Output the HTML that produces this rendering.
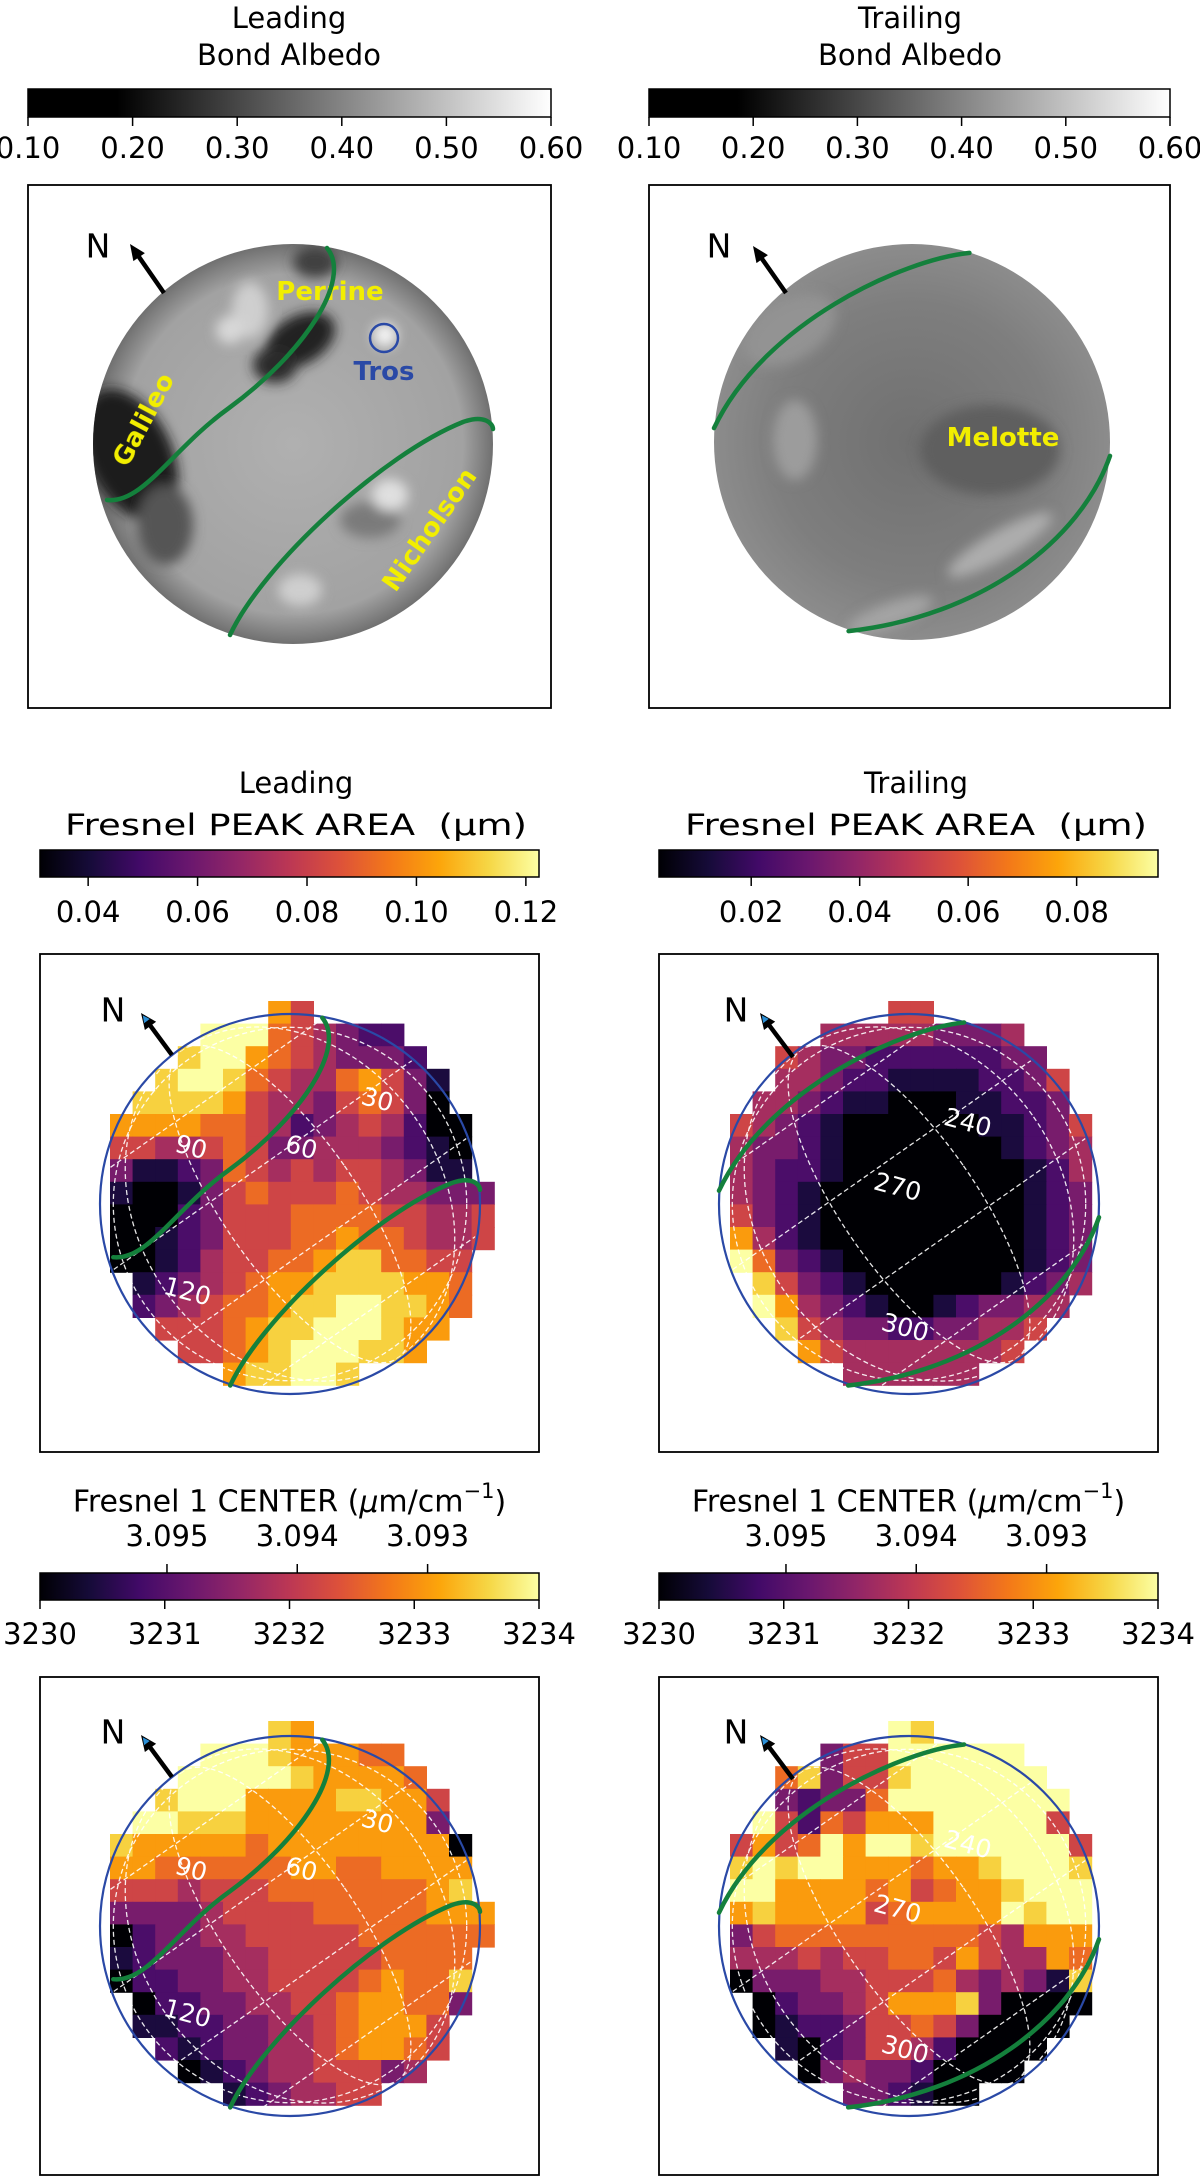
<!DOCTYPE html>
<html><head><meta charset="utf-8"><title>Ganymede Fresnel peak maps</title>
<style>
html,body{margin:0;padding:0;background:#fff;}
svg{display:block;font-family:"DejaVu Sans","Liberation Sans",sans-serif;}
</style></head>
<body>
<svg id="fig" width="1200" height="2179" viewBox="0 0 1200 2179" xmlns="http://www.w3.org/2000/svg">
<defs>
<linearGradient id="grayGrad" x1="0" x2="1" y1="0" y2="0">
<stop offset="0" stop-color="#000"/><stop offset="0.17" stop-color="#000"/><stop offset="1" stop-color="#fff"/>
</linearGradient>
<linearGradient id="infGrad" x1="0" x2="1" y1="0" y2="0">
<stop offset="0" stop-color="#000004"/><stop offset="0.1" stop-color="#160b39"/><stop offset="0.2" stop-color="#420a68"/><stop offset="0.3" stop-color="#6a176e"/><stop offset="0.4" stop-color="#932667"/><stop offset="0.5" stop-color="#bc3754"/><stop offset="0.6" stop-color="#dd513a"/><stop offset="0.7" stop-color="#f37819"/><stop offset="0.8" stop-color="#fca50a"/><stop offset="0.9" stop-color="#f6d746"/><stop offset="1" stop-color="#fcffa4"/>
</linearGradient>
<radialGradient id="leadGlobe" cx="0.5" cy="0.5" r="0.5">
<stop offset="0" stop-color="#b0b0b0"/><stop offset="0.85" stop-color="#a2a2a2"/><stop offset="1" stop-color="#707070"/>
</radialGradient>
<radialGradient id="trailGlobe" cx="0.5" cy="0.5" r="0.5">
<stop offset="0" stop-color="#707070"/><stop offset="0.7" stop-color="#7e7e7e"/><stop offset="1" stop-color="#8c8c8c"/>
</radialGradient>
<filter id="blur6"><feGaussianBlur stdDeviation="6"/></filter>
<clipPath id="clipLA"><circle cx="293" cy="444" r="200"/></clipPath>
<clipPath id="clipTA"><circle cx="912" cy="442" r="198"/></clipPath>
</defs>
<g id="layer"></g>
</svg>
<script>
// ---------- colorbar tick data ----------
const albedoTicks = ["0.10","0.20","0.30","0.40","0.50","0.60"];
const albedoTickVals = [0.10,0.20,0.30,0.40,0.50,0.60];
const albedoRange = [0.10,0.60];
const leadAreaTicks = ["0.04","0.06","0.08","0.10","0.12"];
const leadAreaTickVals = [0.04,0.06,0.08,0.10,0.12];
const leadAreaRange = [0.0312,0.1224];
const trailAreaTicks = ["0.02","0.04","0.06","0.08"];
const trailAreaTickVals = [0.02,0.04,0.06,0.08];
const trailAreaRange = [0.003,0.095];
const centerTicks = ["3230","3231","3232","3233","3234"];
const centerTickVals = [3230,3231,3232,3233,3234];
const centerRange = [3230,3234];
const centerTopTicks = ["3.095","3.094","3.093"];
const centerTopVals = [3.095,3.094,3.093];

// ---------- heatmap levels (0 = darkest .. 9 = brightest, -1 = no data) ----------
const leadAreaLevels = [
[-1,-1,-1,-1,-1,-1,-1,7,5,-1,-1,-1,-1,-1,-1,-1,-1],
[-1,-1,-1,-1,9,9,9,6,5,4,3,2,2,-1,-1,-1,-1],
[-1,-1,-1,8,9,9,7,6,5,4,3,3,3,2,-1,-1,-1],
[-1,-1,8,9,9,8,6,5,4,4,6,7,5,3,1,-1,-1],
[-1,8,8,8,8,7,5,4,4,3,5,6,5,3,0,-1,-1],
[7,7,7,7,6,6,5,4,2,3,4,5,4,2,0,0,-1],
[5,5,4,4,5,6,5,3,3,4,4,4,3,2,1,0,-1],
[3,1,1,2,3,6,5,4,5,4,5,5,4,3,1,1,-1],
[1,0,0,1,3,5,6,5,5,5,6,5,4,4,3,3,3],
[0,0,0,2,3,5,5,5,6,6,6,6,5,5,4,4,5],
[0,0,1,2,3,5,5,5,6,6,7,6,6,5,4,4,5],
[0,0,1,2,4,5,5,6,6,7,8,8,6,6,5,5,-1],
[-1,1,2,3,4,5,6,7,7,8,8,8,8,7,7,6,-1],
[-1,2,3,4,5,6,6,7,8,8,9,9,8,8,7,6,-1],
[-1,-1,5,5,5,6,7,8,8,9,9,9,8,7,7,-1,-1],
[-1,-1,-1,5,5,6,7,8,9,9,9,8,8,7,-1,-1,-1],
[-1,-1,-1,-1,-1,7,8,8,9,9,8,-1,-1,-1,-1,-1,-1]];
const trailAreaLevels = [
[-1,-1,-1,-1,-1,-1,-1,5,5,-1,-1,-1,-1,-1,-1,-1],
[-1,-1,-1,-1,4,4,4,4,4,3,3,3,4,-1,-1,-1],
[-1,-1,5,4,3,3,2,2,2,2,2,2,3,3,-1,-1],
[-1,-1,4,4,3,2,2,1,1,1,1,2,2,3,5,-1],
[-1,4,4,3,2,1,1,0,0,0,1,1,2,2,3,-1],
[5,4,3,2,1,0,0,0,0,0,0,1,1,2,3,5],
[4,3,3,2,1,0,0,0,0,0,0,0,1,2,3,4],
[4,3,2,2,1,0,0,0,0,0,0,0,0,1,2,4],
[4,3,2,1,0,0,0,0,0,0,0,0,0,1,2,3],
[5,3,2,1,0,0,0,0,0,0,0,0,0,1,2,3],
[7,4,2,1,0,0,0,0,0,0,0,0,0,1,2,3],
[9,6,3,2,1,0,0,0,0,0,0,0,0,1,2,3],
[-1,8,5,3,2,1,0,0,0,0,0,0,1,2,3,4],
[-1,9,7,4,3,2,1,0,0,1,2,3,3,4,4,-1],
[-1,-1,8,5,4,3,3,2,2,3,3,4,4,5,-1,-1],
[-1,-1,-1,7,5,4,4,4,4,4,4,4,5,-1,-1,-1],
[-1,-1,-1,-1,-1,4,4,4,4,4,4,-1,-1,-1,-1,-1]];
const leadCenterLevels = [
[-1,-1,-1,-1,-1,-1,-1,8,7,-1,-1,-1,-1,-1,-1,-1,-1],
[-1,-1,-1,-1,9,9,9,8,7,7,7,6,6,-1,-1,-1,-1],
[-1,-1,-1,9,9,9,9,9,8,7,7,7,7,6,-1,-1,-1],
[-1,-1,8,9,9,9,7,7,7,7,8,8,7,7,5,-1,-1],
[-1,9,9,8,8,8,7,7,7,7,7,7,7,7,3,-1,-1],
[8,7,7,7,7,7,6,7,7,7,7,7,7,7,7,0,-1],
[7,7,6,6,6,6,6,6,7,7,6,6,7,7,7,7,-1],
[5,5,5,4,5,5,5,6,6,6,6,6,6,6,7,8,-1],
[3,3,3,3,4,5,5,5,5,6,6,6,6,6,7,7,7],
[0,2,3,3,4,4,5,5,5,5,5,6,6,6,6,6,6],
[1,2,3,3,3,4,4,5,5,5,5,5,6,6,6,6,-1],
[0,2,2,3,3,4,4,5,5,5,5,6,7,6,6,8,-1],
[-1,0,2,2,3,3,4,4,5,5,6,7,7,6,6,3,-1],
[-1,1,1,2,2,3,3,4,4,5,6,7,7,7,5,-1,-1],
[-1,-1,2,1,2,3,3,4,4,5,6,7,7,6,5,-1,-1],
[-1,-1,-1,0,1,2,3,4,4,5,5,5,3,4,-1,-1,-1],
[-1,-1,-1,-1,-1,1,2,3,4,4,5,5,-1,-1,-1,-1,-1]];
const trailCenterLevels = [
[-1,-1,-1,-1,-1,-1,-1,9,8,-1,-1,-1,-1,-1,-1,-1],
[-1,-1,-1,-1,3,5,5,9,9,9,9,9,9,-1,-1,-1],
[-1,-1,6,8,3,5,5,8,9,9,9,9,9,9,-1,-1],
[-1,-1,3,2,3,3,6,9,9,9,9,9,9,9,9,-1],
[-1,9,5,2,6,5,7,7,7,9,9,9,9,9,5,-1],
[5,7,5,6,9,7,9,9,8,9,9,9,9,9,9,5],
[8,9,8,9,9,7,7,7,6,7,7,8,9,9,9,8],
[9,9,7,7,7,7,6,7,5,6,7,7,8,9,9,9],
[7,8,7,7,7,7,5,6,7,7,7,7,9,8,9,9],
[3,5,6,6,6,6,6,6,6,6,6,5,4,7,7,7],
[4,4,4,5,4,5,5,6,6,5,7,5,4,4,7,6],
[0,3,3,3,4,4,5,5,5,6,4,3,4,3,1,8],
[-1,0,2,3,3,4,5,7,7,7,8,3,0,0,0,0],
[-1,0,1,2,2,3,5,5,6,5,3,0,0,0,0,-1],
[-1,-1,1,0,2,3,5,5,4,2,0,0,0,0,-1,-1],
[-1,-1,-1,0,3,4,3,3,2,0,0,0,0,-1,-1,-1],
[-1,-1,-1,-1,-1,3,3,2,1,0,0,-1,-1,-1,-1,-1]];
const levelMax = 9;

// grid labels
const leadGridLabels = ["30","90","60","120"];
const trailGridLabels = ["240","270","300"];

const NS = "http://www.w3.org/2000/svg";
const layer = document.getElementById('layer');
function mk(tag, attrs, parent){
  const e = document.createElementNS(NS, tag);
  for (const k in attrs) e.setAttribute(k, attrs[k]);
  (parent||layer).appendChild(e);
  return e;
}
const infStops = [[0,0,0,4],[0.1,22,11,57],[0.2,66,10,104],[0.3,106,23,110],[0.4,147,38,103],[0.5,188,55,84],[0.6,221,81,58],[0.7,243,120,25],[0.8,252,165,10],[0.9,246,215,70],[1,252,255,164]];
function inferno(t){
  t=Math.max(0,Math.min(1,t));
  for(let i=1;i<infStops.length;i++){
    if(t<=infStops[i][0]){
      const a=infStops[i-1],b=infStops[i],f=(t-a[0])/(b[0]-a[0]);
      return `rgb(${Math.round(a[1]+f*(b[1]-a[1]))},${Math.round(a[2]+f*(b[2]-a[2]))},${Math.round(a[3]+f*(b[3]-a[3]))})`;
    }
  }
  return 'rgb(252,255,164)';
}
function txt(x,y,s,size,opts){
  const t = mk('text', Object.assign({x:x,y:y,'font-size':size,'text-anchor':'middle','dominant-baseline':'central',fill:'#000'}, opts||{}));
  t.textContent = s;
  return t;
}

// ---------- colorbar ----------
function colorbar(name, x0, x1, y0, y1, grad, range, vals, labels, labelY){
  const g = mk('g', {});
  
  
  const sx = v => x0 + (v - range[0]) / (range[1] - range[0]) * (x1 - x0);
  mk('rect', {x:x0,y:y0,width:x1-x0,height:y1-y0,fill:`url(#${grad})`,stroke:'#000','stroke-width':1.5}, g);
  vals.forEach((v,i)=>{
    const x = sx(v);
    mk('line', {x1:x,x2:x,y1:y1,y2:y1+9,stroke:'#000','stroke-width':1.5}, g);
    const t = txt(x, labelY, labels[i], 29, {});
    g.appendChild(t);
    
    
  });
  return g;
}
function title2(cx, y1, y2, a, b, name){
  const t1 = txt(cx, y1, a, 29);
  
  
  const t2 = txt(cx, y2, b, 29);
  
  
  return t2;
}
function box(x0,y0,x1,y1,name){
  const r = mk('rect',{x:x0,y:y0,width:x1-x0,height:y1-y0,fill:'none',stroke:'#000','stroke-width':1.8});
  
  
}
function northArrow(nx, ny, ax0, ay0, ax1, ay1, blueTip, name){
  const g = mk('g',{});
  
  
  const t = txt(nx, ny, 'N', 33); g.appendChild(t);
  mk('line',{x1:ax0,y1:ay0,x2:ax1+(ax0-ax1)*0.2,y2:ay1+(ay0-ay1)*0.2,stroke:'#000','stroke-width':4.5}, g);
  const ang = Math.atan2(ay1-ay0, ax1-ax0);
  const L=16, W=7;
  const bx = ax1 - L*Math.cos(ang), by = ay1 - L*Math.sin(ang);
  const px = -Math.sin(ang)*W, py = Math.cos(ang)*W;
  mk('polygon',{points:`${ax1},${ay1} ${bx+px},${by+py} ${bx-px},${by-py}`,fill:'#000'}, g);
  if (blueTip){
    const b2x = ax1 - 10*Math.cos(ang), b2y = ay1 - 10*Math.sin(ang);
    mk('polygon',{points:`${ax1-3*Math.cos(ang)},${ay1-3*Math.sin(ang)} ${b2x+px*0.5},${b2y+py*0.5} ${b2x-px*0.5},${b2y-py*0.5}`,fill:'#2b8fd6'}, g);
  }
}
function up(cx,cy,r,p){return (cx+p[0]*r).toFixed(1)+','+(cy+p[1]*r).toFixed(1);}
function curves(cx, cy, r, side, name){
  const g = mk('g',{fill:'none',stroke:'#14803c','stroke-width':4.5,'stroke-linecap':'round'});
  
  
  if (side==='lead'){
    mk('path',{d:`M${up(cx,cy,r,[0.17,-0.98])} C${up(cx,cy,r,[0.30,-0.82])} ${up(cx,cy,r,[0.05,-0.45])} ${up(cx,cy,r,[-0.32,-0.18])} C${up(cx,cy,r,[-0.6,0.02])} ${up(cx,cy,r,[-0.75,0.30])} ${up(cx,cy,r,[-0.93,0.28])}`}, g);
    mk('path',{d:`M${up(cx,cy,r,[-0.315,0.955])} C${up(cx,cy,r,[-0.15,0.6])} ${up(cx,cy,r,[0.45,0.05])} ${up(cx,cy,r,[0.85,-0.11])} C${up(cx,cy,r,[0.96,-0.15])} ${up(cx,cy,r,[1.0,-0.1])} ${up(cx,cy,r,[1.0,-0.075])}`}, g);
  } else {
    mk('path',{d:`M${up(cx,cy,r,[0.29,-0.955])} C${up(cx,cy,r,[-0.05,-0.92])} ${up(cx,cy,r,[-0.75,-0.60])} ${up(cx,cy,r,[-1.0,-0.07])}`}, g);
    mk('path',{d:`M${up(cx,cy,r,[1.0,0.07])} C${up(cx,cy,r,[0.85,0.50])} ${up(cx,cy,r,[0.35,0.88])} ${up(cx,cy,r,[-0.32,0.955])}`}, g);
  }
}
function heatmap(levels, x0, y0, cell, name){
  const g = mk('g',{});
  
  
  levels.forEach((row, r)=>{
    row.forEach((v, c)=>{
      if (v < 0) return;
      const rc = mk('rect',{x:(x0+c*cell).toFixed(2),y:(y0+r*cell).toFixed(2),width:(cell+0.6).toFixed(2),height:(cell+0.6).toFixed(2),fill:inferno(v/levelMax)}, g);
      
      
    });
  });
}
function gridOverlay(cx, cy, r, clipId, labels, labelPos, name){
  const g = mk('g',{});
  
  
  const cp = mk('clipPath',{id:clipId}, g);
  mk('circle',{cx:cx,cy:cy,r:r-2}, cp);
  const gg = mk('g',{'clip-path':`url(#${clipId})`,fill:'none',stroke:'#fff','stroke-width':1.3,'stroke-dasharray':'5,3',opacity:0.9}, g);
  const gr = mk('g',{transform:`rotate(-35 ${cx} ${cy})`}, gg);
  [0.35,0.8].forEach(f=>mk('ellipse',{cx:cx,cy:cy,rx:r*f,ry:r*0.99}, gr));
  [-0.7,-0.25,0.25,0.7].forEach(f=>mk('line',{x1:cx-r,x2:cx+r,y1:cy+f*r,y2:cy+f*r}, gr));
  mk('circle',{cx:cx,cy:cy,r:r*0.93}, gg);
  mk('circle',{cx:cx,cy:cy,r:r,fill:'none',stroke:'#2a49a6','stroke-width':2.2}, g);
  labels.forEach((s,i)=>{
    const p = labelPos[i];
    const t = txt(cx+p[0]*r, cy+p[1]*r, s, 25, {fill:'#fff',transform:`rotate(15 ${cx+p[0]*r} ${cy+p[1]*r})`});
    g.appendChild(t);
    
    
  });
}

// ================= Row 1: albedo =================
title2(289, 18, 55, 'Leading', 'Bond Albedo', 'leading-albedo-title');
title2(910, 18, 55, 'Trailing', 'Bond Albedo', 'trailing-albedo-title');
colorbar('leading-albedo-colorbar', 28, 551, 89, 117, 'grayGrad', albedoRange, albedoTickVals, albedoTicks, 148);
colorbar('trailing-albedo-colorbar', 649, 1170, 89, 117, 'grayGrad', albedoRange, albedoTickVals, albedoTicks, 148);
box(28,185,551,708,'leading-albedo-panel');
box(649,185,1170,708,'trailing-albedo-panel');

(function(){
  const g = mk('g',{});
  
  
  mk('circle',{cx:293,cy:444,r:200,fill:'url(#leadGlobe)'}, g);
  const d = mk('g',{'clip-path':'url(#clipLA)',filter:'url(#blur6)'}, g);
  mk('ellipse',{cx:130,cy:455,rx:42,ry:70,fill:'#1c1c1c',transform:'rotate(-25 130 455)'}, d);
  mk('ellipse',{cx:165,cy:525,rx:28,ry:40,fill:'#555'}, d);
  mk('ellipse',{cx:300,cy:340,rx:38,ry:24,fill:'#202020',transform:'rotate(-30 300 340)'}, d);
  mk('ellipse',{cx:275,cy:365,rx:22,ry:18,fill:'#2a2a2a'}, d);
  mk('ellipse',{cx:315,cy:262,rx:22,ry:16,fill:'#404040'}, d);
  mk('ellipse',{cx:250,cy:310,rx:18,ry:28,fill:'#cfcfcf'}, d);
  mk('ellipse',{cx:385,cy:335,rx:12,ry:12,fill:'#f4f4f4'}, d);
  mk('ellipse',{cx:370,cy:520,rx:30,ry:18,fill:'#7a7a7a'}, d);
  mk('ellipse',{cx:390,cy:495,rx:18,ry:16,fill:'#e0e0e0'}, d);
  mk('ellipse',{cx:230,cy:330,rx:14,ry:14,fill:'#d8d8d8'}, d);
  mk('ellipse',{cx:300,cy:590,rx:22,ry:16,fill:'#cfcfcf'}, d);
  const lab = [['Perrine',330,292,0],['Galileo',144,420,-62],['Nicholson',430,530,-55]];
  lab.forEach(l=>{
    const t = txt(l[1],l[2],l[0],26,{fill:'#f2ee00','font-weight':'bold',transform:`rotate(${l[3]} ${l[1]} ${l[2]})`}); g.appendChild(t);
    
    
  });
  const c = mk('circle',{cx:384,cy:338,r:14,fill:'none',stroke:'#2a49a6','stroke-width':2.5}, g);
  
  
  const t = txt(384,372,'Tros',26,{fill:'#2a49a6','font-weight':'bold'}); g.appendChild(t);
  
  
})();
curves(293,444,200,'lead','leading-albedo-boundaries');
northArrow(98,246,164,293,130,244,false,'leading-albedo-north-arrow');

(function(){
  const g = mk('g',{});
  
  
  mk('circle',{cx:912,cy:442,r:198,fill:'url(#trailGlobe)'}, g);
  const d = mk('g',{'clip-path':'url(#clipTA)',filter:'url(#blur6)'}, g);
  mk('ellipse',{cx:790,cy:330,rx:50,ry:30,fill:'#939393',transform:'rotate(-30 790 330)'}, d);
  mk('ellipse',{cx:795,cy:440,rx:22,ry:40,fill:'#9c9c9c'}, d);
  mk('ellipse',{cx:1000,cy:545,rx:60,ry:14,fill:'#adadad',transform:'rotate(-30 1000 545)'}, d);
  mk('ellipse',{cx:890,cy:615,rx:45,ry:12,fill:'#a4a4a4',transform:'rotate(-20 890 615)'}, d);
  mk('ellipse',{cx:990,cy:450,rx:70,ry:45,fill:'#5e5e5e'}, d);
  const t = txt(1003,438,'Melotte',26,{fill:'#f2ee00','font-weight':'bold'}); g.appendChild(t);
  
  
})();
curves(912,442,198,'trail','trailing-albedo-boundaries');
northArrow(719,246,786,293,753,246,false,'trailing-albedo-north-arrow');

// ================= Row 2: peak area =================
const pa1 = title2(296, 783, 825, 'Leading', 'Fresnel PEAK AREA\u00a0\u00a0(\u03bcm)', 'leading-area-title');
const pa2 = title2(916, 783, 825, 'Trailing', 'Fresnel PEAK AREA\u00a0\u00a0(\u03bcm)', 'trailing-area-title');
[pa1,pa2].forEach(t=>{t.setAttribute('textLength','462');t.setAttribute('lengthAdjust','spacingAndGlyphs');});
colorbar('leading-area-colorbar', 40, 539, 850, 877, 'infGrad', leadAreaRange, leadAreaTickVals, leadAreaTicks, 912);
colorbar('trailing-area-colorbar', 659, 1158, 850, 877, 'infGrad', trailAreaRange, trailAreaTickVals, trailAreaTicks, 912);
box(40,954,539,1452,'leading-area-panel');
box(659,954,1158,1452,'trailing-area-panel');
heatmap(leadAreaLevels, 110, 1001, 22.6, 'leading-area-heatmap');
heatmap(trailAreaLevels, 730, 1001, 22.6, 'trailing-area-heatmap');
const leadLabelPos = [[0.46,-0.55],[-0.52,-0.30],[0.06,-0.30],[-0.54,0.46]];
const trailLabelPos = [[0.31,-0.43],[-0.06,-0.09],[-0.02,0.65]];
gridOverlay(290,1204,190,'gclip1',leadGridLabels,leadLabelPos,'leading-area-grid');
gridOverlay(909,1204,190,'gclip2',trailGridLabels,trailLabelPos,'trailing-area-grid');
curves(290,1204,190,'lead','leading-area-boundaries');
curves(909,1204,190,'trail','trailing-area-boundaries');
northArrow(113,1010,172,1055,141,1013,true,'leading-area-north-arrow');
northArrow(736,1010,793,1057,760,1013,true,'trailing-area-north-arrow');

// ================= Row 3: center =================
function centerBar(x0,x1,side){
  const t = txt((x0+x1)/2, 1502, '', 30);
  t.innerHTML = 'Fresnel 1 CENTER (<tspan font-style="italic">\u03bc</tspan>m/cm<tspan dy="-11" font-size="21">\u22121</tspan><tspan dy="11">)</tspan>';
  
  
  colorbar(side + '-center-colorbar', x0, x1, 1573, 1600, 'infGrad', centerRange, centerTickVals, centerTicks, 1634);
  const sx = v => x0 + (v - centerRange[0])/(centerRange[1]-centerRange[0])*(x1-x0);
  const g = mk('g',{});
  
  
  centerTopVals.forEach((w,i)=>{
    const x = sx(1e4/w);
    mk('line',{x1:x,x2:x,y1:1573,y2:1564,stroke:'#000','stroke-width':1.5}, g);
    const tt = txt(x, 1536, centerTopTicks[i], 29); g.appendChild(tt);
    
    
  });
}
centerBar(40,539,'leading');
centerBar(659,1158,'trailing');
box(40,1677,539,2175,'leading-center-panel');
box(659,1677,1158,2175,'trailing-center-panel');
heatmap(leadCenterLevels, 110, 1721, 22.6, 'leading-center-heatmap');
heatmap(trailCenterLevels, 730, 1721, 22.6, 'trailing-center-heatmap');
gridOverlay(290,1926,190,'gclip3',leadGridLabels,leadLabelPos,'leading-center-grid');
gridOverlay(909,1926,190,'gclip4',trailGridLabels,trailLabelPos,'trailing-center-grid');
curves(290,1926,190,'lead','leading-center-boundaries');
curves(909,1926,190,'trail','trailing-center-boundaries');
northArrow(113,1732,172,1777,141,1735,true,'leading-center-north-arrow');
northArrow(736,1732,793,1779,760,1735,true,'trailing-center-north-arrow');
</script>
</body></html>
